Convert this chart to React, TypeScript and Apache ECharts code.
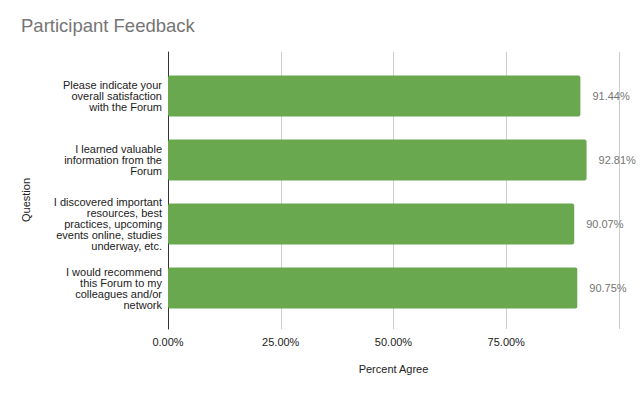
import React, { useEffect, useRef } from "react";
import * as echarts from "echarts";

const categories = [
  "Please indicate your\noverall satisfaction\nwith the Forum",
  "I learned valuable\ninformation from the\nForum",
  "I discovered important\nresources, best\npractices, upcoming\nevents online, studies\nunderway, etc.",
  "I would recommend\nthis Forum to my\ncolleagues and/or\nnetwork",
];
const percentAgree = [91.44, 92.81, 90.07, 90.75];
const xTicks = [0, 25, 50, 75, 100];

const FONT = "'Liberation Sans', Arial, sans-serif";

export default function App() {
  const ref = useRef<HTMLDivElement>(null);
  useEffect(() => {
    if (!ref.current) return;
    const chart = echarts.init(ref.current, undefined, { renderer: "svg" });
    chart.setOption({
      animation: false,
      backgroundColor: "#ffffff",
      textStyle: { fontFamily: FONT },
      title: {
        text: "Participant Feedback",
        left: 21,
        top: 16,
        padding: 0,
        textStyle: { fontFamily: FONT, fontSize: 18.5, fontWeight: "normal", color: "#757575" },
      },
      graphic: [
        {
          type: "text",
          x: 26,
          y: 200,
          rotation: Math.PI / 2,
          style: {
            text: "Question",
            align: "center",
            verticalAlign: "middle",
            font: `11px ${FONT}`,
            fill: "#222222",
          },
        },
      ],
      grid: [
        { left: 168, right: 21, top: 52, bottom: 66 },
        { left: 168, right: 21, top: 64, bottom: 75 },
      ],
      xAxis: [
        {
          gridIndex: 0,
          type: "value",
          min: xTicks[0],
          max: xTicks[xTicks.length - 1],
          interval: xTicks[1] - xTicks[0],
          name: "Percent Agree",
          nameLocation: "middle",
          nameGap: 34,
          nameTextStyle: { fontFamily: FONT, fontSize: 11, color: "#222222" },
          axisLine: { show: false },
          axisTick: { show: false },
          splitLine: { lineStyle: { color: "#cccccc", width: 1 } },
          axisLabel: {
            showMaxLabel: false,
            margin: 7,
            fontFamily: FONT,
            fontSize: 11,
            color: "#222222",
            formatter: (v: number) => `${v.toFixed(2)}%`,
          },
        },
        {
          gridIndex: 1,
          type: "value",
          min: xTicks[0],
          max: xTicks[xTicks.length - 1],
          show: false,
        },
      ],
      yAxis: [
        {
          gridIndex: 0,
          type: "value",
          min: 0,
          max: 1,
          axisLine: { show: true, lineStyle: { color: "#333333", width: 1 } },
          axisTick: { show: false },
          axisLabel: { show: false },
          splitLine: { show: false },
        },
        {
          gridIndex: 1,
          type: "category",
          inverse: true,
          data: categories,
          axisLine: { show: false },
          axisTick: { show: false },
          axisLabel: {
            margin: 6,
            fontFamily: FONT,
            fontSize: 11,
            lineHeight: 11,
            color: "#222222",
            align: "right",
          },
        },
      ],
      series: [
        {
          type: "bar",
          xAxisIndex: 1,
          yAxisIndex: 1,
          data: percentAgree,
          barWidth: 41,
          itemStyle: { color: "#6aa84f", borderRadius: 2 },
          label: {
            show: true,
            position: "right",
            distance: 12,
            fontFamily: FONT,
            fontSize: 11,
            color: "#757575",
            formatter: (p: any) => `${Number(p.value).toFixed(2)}%`,
          },
        },
      ],
    });
    return () => chart.dispose();
  }, []);
  return (
    <div
      ref={ref}
      style={{ position: "fixed", left: 0, top: 0, width: 640, height: 395 }}
    />
  );
}
